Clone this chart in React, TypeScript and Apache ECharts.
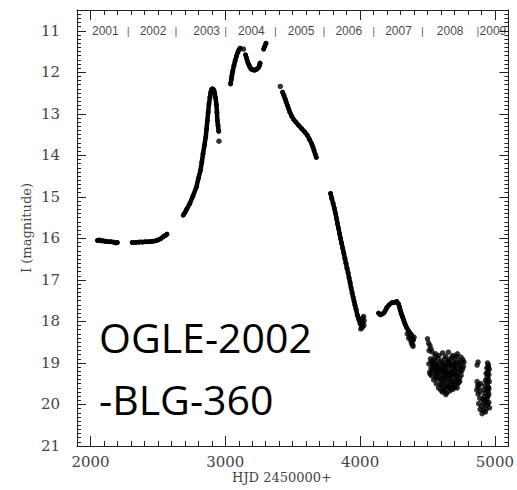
import React, { useEffect, useRef } from 'react';
import * as echarts from 'echarts';

// ---- light-curve data (HJD-2450000, I magnitude) ----
const season2001 = [[2052,16.05],[2065,16.04],[2080,16.06],[2095,16.06],[2110,16.07],[2130,16.08],[2150,16.08],[2170,16.09],[2188,16.11],[2199,16.10]];
const season2002 = [[2310,16.10],[2335,16.10],[2360,16.09],[2385,16.09],[2410,16.08],[2435,16.08],[2460,16.07],[2480,16.06],[2500,16.04],[2520,16.01],[2540,15.96],[2555,15.93],[2567,15.90]];
const season2003 = [[2688,15.44],[2700,15.38],[2715,15.29],[2737,15.16],[2760,14.98],[2786,14.76],[2800,14.56],[2816,14.36],[2826,14.16],[2835,13.96],[2845,13.76],[2855,13.56],[2861,13.36],[2867,13.16],[2873,12.96],[2879,12.76],[2886,12.60],[2892,12.48],[2898,12.42],[2904,12.40],[2910,12.41],[2916,12.44],[2921,12.50],[2928,12.62],[2934,12.78],[2938,12.96],[2941,13.16],[2946,13.28],[2951,13.42]];
const season2004a = [[3039,12.28],[3044,12.18],[3048,12.10],[3052,12.02],[3056,11.96],[3064,11.84],[3073,11.72],[3083,11.61],[3093,11.52],[3101,11.46],[3110,11.42]];
const season2004b = [[3150,11.58],[3158,11.66],[3167,11.76],[3175,11.82],[3182,11.87],[3191,11.92],[3205,11.94],[3215,11.95],[3223,11.94],[3235,11.92],[3248,11.88],[3254,11.83],[3258,11.78]];
const season2004c = [[3285,11.44],[3292,11.38],[3302,11.30]];
const season2005 = [[3425,12.48],[3435,12.56],[3444,12.64],[3452,12.72],[3461,12.80],[3470,12.88],[3479,12.96],[3493,13.06],[3508,13.14],[3523,13.20],[3545,13.28],[3567,13.36],[3590,13.44],[3609,13.52],[3625,13.62],[3641,13.72],[3650,13.80],[3658,13.88],[3667,13.97],[3675,14.05]];
const season2006 = [[3781,14.92],[3790,15.04],[3800,15.16],[3809,15.28],[3818,15.40],[3825,15.52],[3832,15.64],[3840,15.76],[3847,15.88],[3855,16.00],[3863,16.12],[3871,16.24],[3879,16.36],[3887,16.48],[3895,16.60],[3903,16.72],[3911,16.83],[3918,16.95],[3926,17.07],[3933,17.19],[3941,17.31],[3948,17.41],[3955,17.51],[3962,17.61],[3970,17.71],[3980,17.85],[3990,17.95],[4000,18.05],[4010,18.11]];
const season2007 = [[4137,17.80],[4150,17.84],[4165,17.82],[4180,17.78],[4190,17.72],[4198,17.67],[4215,17.60],[4235,17.55],[4255,17.54],[4272,17.52],[4285,17.58],[4292,17.65],[4297,17.72],[4304,17.79],[4310,17.85],[4316,17.90],[4321,17.95],[4328,18.02],[4335,18.08],[4346,18.15],[4358,18.22],[4370,18.28],[4383,18.33],[4395,18.45]];
const singleDots = [[2953,13.66],[3135,11.44],[3408,12.34]];
const season2006End = [[4020,17.92],[4026,17.88],[4030,17.98],[4015,18.15],[4005,18.18],[4022,18.05],[4000,17.95],[4012,18.00],[4028,18.10]];
const season2007End = [[4360,18.40],[4375,18.45],[4390,18.55],[4385,18.40],[4400,18.38],[4350,18.30],[4392,18.60],[4380,18.52],[4368,18.35]];
const cluster2008 = [[4500,18.42],[4508,18.52],[4518,18.58],[4526,18.66],[4512,18.70],[4535,18.74],
[4560,18.78],[4612,18.76],[4655,18.74],[4690,18.82],[4722,18.78],[4748,18.86],
[4522,18.90],[4546,18.93],[4577,18.88],[4601,18.95],[4627,18.90],[4662,18.92],[4703,18.89],[4736,18.95],[4762,18.92],
[4510,19.02],[4536,18.99],[4566,19.04],[4590,19.00],[4619,19.05],[4646,18.98],[4673,19.03],[4706,19.01],[4731,19.06],[4756,19.00],
[4526,19.12],[4551,19.08],[4581,19.13],[4606,19.10],[4632,19.15],[4657,19.09],[4686,19.12],[4713,19.14],[4741,19.10],[4766,19.08],
[4516,19.22],[4541,19.19],[4571,19.24],[4596,19.20],[4623,19.18],[4649,19.25],[4676,19.21],[4701,19.17],[4726,19.23],[4752,19.20],
[4531,19.31],[4559,19.28],[4586,19.33],[4613,19.30],[4641,19.27],[4669,19.34],[4696,19.29],[4721,19.32],[4749,19.30],
[4546,19.41],[4576,19.38],[4601,19.43],[4629,19.40],[4656,19.37],[4683,19.42],[4711,19.39],[4739,19.44],
[4566,19.50],[4593,19.53],[4621,19.48],[4649,19.55],[4677,19.50],[4706,19.52],[4731,19.47],
[4581,19.60],[4616,19.63],[4643,19.58],[4671,19.62],[4701,19.60],
[4611,19.70],[4641,19.72],[4662,19.68],[4636,19.76],
[4590,19.15],[4640,19.05],[4680,19.30],[4620,19.35],[4700,19.10],[4660,19.20],[4570,19.15],[4720,19.40],
[4555,18.85],[4585,18.82],[4635,18.84],[4680,18.86],[4715,18.84],
[4530,18.96],[4560,18.97],[4610,19.00],[4655,18.96],[4690,18.97],[4725,18.99],[4770,18.98],
[4540,19.06],[4575,19.08],[4625,19.10],[4665,19.06],[4695,19.06],[4760,19.14],
[4535,19.16],[4562,19.20],[4610,19.22],[4638,19.21],[4690,19.25],[4740,19.18],
[4520,19.27],[4575,19.26],[4630,19.30],[4655,19.31],[4710,19.27],[4738,19.36],
[4560,19.36],[4595,19.39],[4640,19.45],[4668,19.45],[4695,19.46],[4725,19.50],
[4605,19.53],[4632,19.58],[4660,19.57],[4690,19.56],[4720,19.60],
[4600,19.66],[4625,19.67],[4685,19.64]];
const cluster2009 = [[4875,18.98],[4868,19.05],[4945,19.00],[4952,19.05],[4940,19.12],[4958,19.15],[4948,19.20],[4935,19.25],[4955,19.28],[4942,19.33],[4950,19.38],[4930,19.42],[4958,19.45],[4944,19.50],[4925,19.55],[4952,19.58],[4938,19.62],[4915,19.65],[4948,19.68],[4930,19.72],[4955,19.75],[4920,19.80],[4942,19.85],[4910,19.88],[4935,19.92],
[4868,19.45],[4872,19.55],[4880,19.60],[4865,19.65],[4890,19.70],[4875,19.75],[4895,19.50],
[4880,19.98],[4900,20.05],[4925,20.02],[4945,20.00],[4890,20.12],[4915,20.15],[4935,20.10],[4905,20.22],[4955,19.95],[4960,20.08],
[4950,19.10],[4940,19.45],[4948,19.80],[4925,19.88],[4930,20.18],[4915,19.95],[4888,19.85],[4880,19.52],[4955,19.62],[4945,19.26]];

const yearLabels = ['2001','2002','2003','2004','2005','2006','2007','2008','2009'];
const yearLabelJD = [2110,2464,2862,3194,3562,3916,4285,4668,4985];
const yearSeparatorJD = [2280,2634,3002,3371,3732,4101,4462,4874];
const yTickValues = [11,12,13,14,15,16,17,18,19,20,21];
const xTickValues = [2000,3000,4000,5000];

const title1 = 'OGLE-2002';
const title2 = '-BLG-360';
const xName = 'HJD 2450000+';
const yName = 'I (magnitude)';

export default function App() {
  const ref = useRef<HTMLDivElement>(null);
  useEffect(() => {
    if (!ref.current) return;
    const chart = echarts.init(ref.current, undefined, { renderer: 'svg' });
    const axisColor = '#222';
    const labelFont = { fontFamily: 'DejaVu Serif', fontSize: 15, color: '#444' };
    const lineSeasons = [season2001, season2002, season2003, season2004a, season2004b, season2004c, season2005, season2006, season2007];
    const dotSets = [singleDots, season2006End, season2007End, cluster2008, cluster2009];
    const series: any[] = [];
    lineSeasons.forEach((d) => series.push({
      type: 'line', data: d, xAxisIndex: 0, yAxisIndex: 0,
      symbol: 'circle', symbolSize: 5, showSymbol: true,
      itemStyle: { color: '#000' },
      lineStyle: { color: '#000', width: 4.5, cap: 'round', join: 'round' },
      silent: true,
    }));
    dotSets.forEach((d) => series.push({
      type: 'scatter', data: d, xAxisIndex: 0, yAxisIndex: 0,
      symbol: 'circle', symbolSize: 5.5, itemStyle: { color: '#000' }, silent: true,
    }));
    series.push({
      type: 'scatter', xAxisIndex: 0, yAxisIndex: 0, symbolSize: 1,
      itemStyle: { color: 'rgba(0,0,0,0)' },
      data: yearLabels.map((t, i) => [yearLabelJD[i], 11, t]),
      label: { show: true, position: 'inside', formatter: (p: any) => p.data[2], fontFamily: 'Liberation Sans', fontSize: 12, color: '#111' },
      silent: true,
    });
    series.push({
      type: 'scatter', xAxisIndex: 0, yAxisIndex: 0, symbolSize: 1,
      itemStyle: { color: 'rgba(0,0,0,0)' },
      data: yearSeparatorJD.map((v) => [v, 11]),
      label: { show: true, position: 'inside', formatter: '|', fontFamily: 'Liberation Sans', fontSize: 11, color: '#333' },
      silent: true,
    });

    const baseX = { type: 'value', min: 1900, max: 5100, splitLine: { show: false } };
    const baseY = { type: 'value', min: 10.5, max: 21, inverse: true, splitLine: { show: false } };
    const tickStyle = { color: axisColor, width: 1 };
    chart.setOption({
      animation: false,
      backgroundColor: '#fff',
      grid: { left: 77, right: 7, top: 10, bottom: 44 },
      xAxis: [
        { ...baseX, position: 'bottom', interval: 100,
          axisLine: { show: true, onZero: false, lineStyle: { color: axisColor, width: 1 } },
          axisTick: { show: true, inside: true, length: 5, lineStyle: tickStyle },
          axisLabel: { show: true, margin: 8, ...labelFont, formatter: (v: number) => (xTickValues.indexOf(Math.round(v)) >= 0 ? String(Math.round(v)) : '') } },
        { ...baseX, position: 'bottom',
          axisLine: { show: false, onZero: false },
          axisTick: { show: true, inside: true, length: 10, customValues: xTickValues, lineStyle: tickStyle },
          axisLabel: { show: false } },
        { ...baseX, position: 'top', interval: 100,
          axisLine: { show: true, onZero: false, lineStyle: { color: axisColor, width: 1 } },
          axisTick: { show: true, inside: true, length: 5, lineStyle: tickStyle },
          axisLabel: { show: false } },
        { ...baseX, position: 'top',
          axisLine: { show: false, onZero: false },
          axisTick: { show: true, inside: true, length: 10, customValues: xTickValues, lineStyle: tickStyle },
          axisLabel: { show: false } },
      ],
      yAxis: [
        { ...baseY, position: 'left',
          axisLine: { show: true, onZero: false, lineStyle: { color: axisColor, width: 1 } },
          axisTick: { show: true, inside: true, length: 9, customValues: yTickValues, lineStyle: tickStyle },
          axisLabel: { show: true, margin: 17, customValues: yTickValues, ...labelFont } },
        { ...baseY, position: 'left', interval: 0.1,
          axisLine: { show: false, onZero: false },
          axisTick: { show: true, inside: true, length: 4, lineStyle: tickStyle },
          axisLabel: { show: false } },
        { ...baseY, position: 'right', interval: 0.1,
          axisLine: { show: true, onZero: false, lineStyle: { color: axisColor, width: 1 } },
          axisTick: { show: true, inside: true, length: 4, lineStyle: tickStyle },
          axisLabel: { show: false } },
        { ...baseY, position: 'right',
          axisLine: { show: false, onZero: false },
          axisTick: { show: true, inside: true, length: 9, customValues: yTickValues, lineStyle: tickStyle },
          axisLabel: { show: false } },
      ],
      graphic: [
        { type: 'text', left: 99, top: 316, style: { text: title1, fontFamily: 'Open Sans', fontSize: 41, fill: '#000' }, silent: true },
        { type: 'text', left: 99, top: 378, style: { text: title2, fontFamily: 'Open Sans', fontSize: 41, fill: '#000' }, silent: true },
        { type: 'text', x: 282, y: 477, style: { text: xName, fontFamily: 'DejaVu Serif', fontSize: 13, fill: '#444', align: 'center', verticalAlign: 'middle' }, silent: true },
        { type: 'text', x: 26, y: 228, rotation: Math.PI / 2, style: { text: yName, fontFamily: 'DejaVu Serif', fontSize: 13, fill: '#444', align: 'center', verticalAlign: 'middle' }, silent: true },
      ],
      series,
    });
    return () => chart.dispose();
  }, []);
  return <div ref={ref} style={{ position: 'fixed', left: 0, top: 0, width: 517, height: 490, background: '#fff' }} />;
}
